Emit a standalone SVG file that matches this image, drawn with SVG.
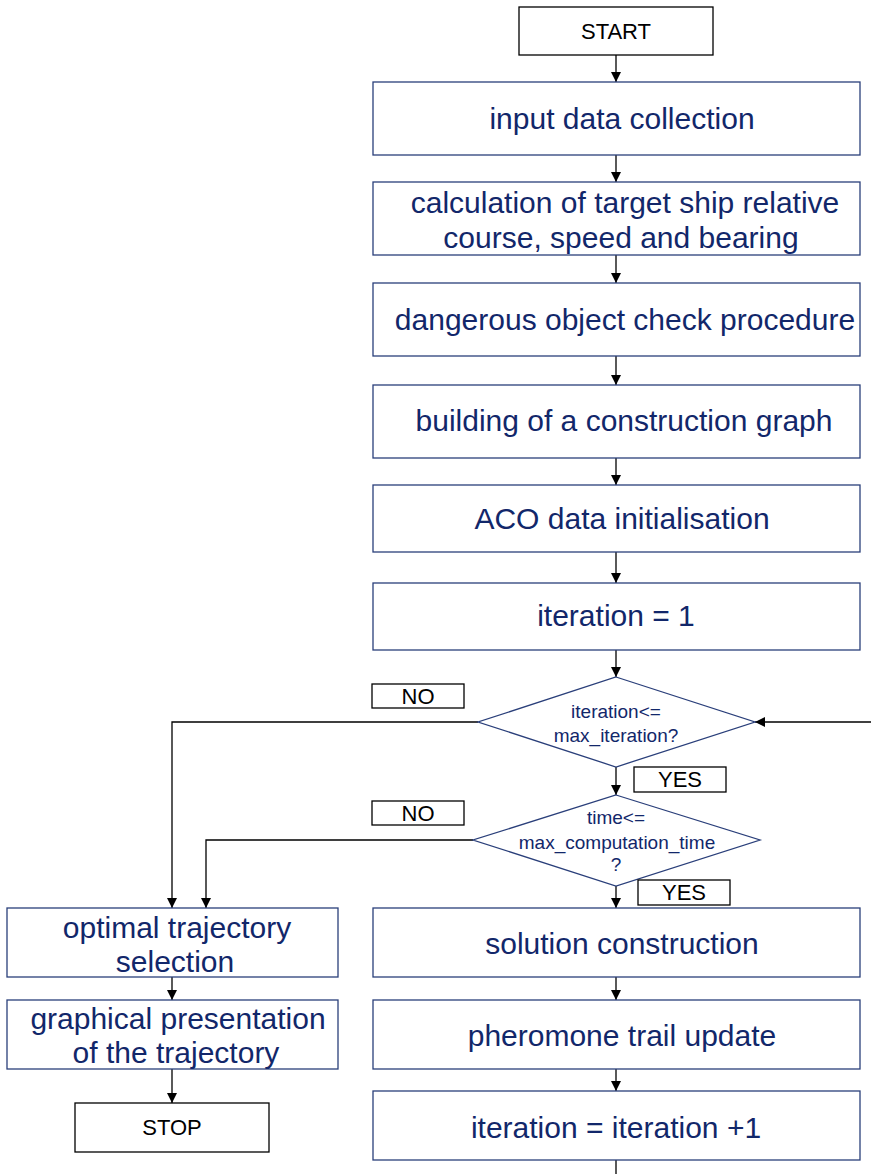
<svg xmlns="http://www.w3.org/2000/svg" width="871" height="1174" viewBox="0 0 871 1174">
<defs>
<marker id="ah" viewBox="0 0 10 10" refX="10" refY="5" markerWidth="10" markerHeight="10" markerUnits="userSpaceOnUse" orient="auto"><path d="M0,0 L10,5 L0,10 z" fill="#000"/></marker>
<style>
.b{fill:#fff;stroke:#2a3f7a;stroke-width:1.3}
.k{fill:#fff;stroke:#000;stroke-width:1.3}
.t{font-family:"Liberation Sans",Arial,sans-serif;font-size:30px;fill:#12276a;text-anchor:middle}
.d{font-family:"Liberation Sans",Arial,sans-serif;font-size:19px;fill:#12276a;text-anchor:middle}
.l{font-family:"Liberation Sans",Arial,sans-serif;font-size:22px;fill:#000;text-anchor:middle}
.c{fill:none;stroke:#000;stroke-width:1.3}
.a{marker-end:url(#ah)}
</style>
</defs>
<g id="connectors">
<line class="c a" x1="616" y1="55" x2="616" y2="82"/>
<line class="c a" x1="616" y1="155" x2="616" y2="182"/>
<line class="c a" x1="616" y1="255" x2="616" y2="283"/>
<line class="c a" x1="616" y1="356" x2="616" y2="385"/>
<line class="c a" x1="616" y1="458" x2="616" y2="485"/>
<line class="c a" x1="616" y1="552" x2="616" y2="583"/>
<line class="c a" x1="616" y1="650" x2="616" y2="677"/>
<line class="c a" x1="616" y1="767" x2="616" y2="795"/>
<line class="c a" x1="616" y1="886" x2="616" y2="908"/>
<line class="c a" x1="616" y1="977" x2="616" y2="1000"/>
<line class="c a" x1="616" y1="1069" x2="616" y2="1091"/>
<line class="c" x1="616" y1="1160" x2="616" y2="1174"/>
<line class="c a" x1="871" y1="722" x2="755" y2="722"/>
<polyline class="c a" points="478,722 172,722 172,908"/>
<polyline class="c a" points="473,840 206,840 206,908"/>
<line class="c a" x1="172" y1="977" x2="172" y2="1000"/>
<line class="c a" x1="172" y1="1069" x2="172" y2="1103"/>
</g>
<g id="start"><rect class="k" x="519" y="7" width="194" height="48"/><text class="l" x="616" y="39">START</text></g>
<g id="input"><rect class="b" x="373" y="82" width="487" height="73"/><text class="t" x="622" y="129">input data collection</text></g>
<g id="calc"><rect class="b" x="373" y="182" width="487" height="73"/><text class="t" x="625" y="213">calculation of target ship relative</text><text class="t" x="621" y="248">course, speed and bearing</text></g>
<g id="danger"><rect class="b" x="373" y="283" width="487" height="73"/><text class="t" x="625" y="330">dangerous object check procedure</text></g>
<g id="graph"><rect class="b" x="373" y="385" width="487" height="73"/><text class="t" x="624" y="431">building of a construction graph</text></g>
<g id="aco"><rect class="b" x="373" y="485" width="487" height="67"/><text class="t" x="622" y="529">ACO data initialisation</text></g>
<g id="iter1"><rect class="b" x="373" y="583" width="487" height="67"/><text class="t" x="616" y="626">iteration = 1</text></g>
<g id="dec1"><polygon class="b" points="616,677 755,722 616,767 478,722"/><text class="d" x="616" y="718">iteration&lt;=</text><text class="d" x="616" y="742">max_iteration?</text></g>
<g id="no1"><rect class="k" x="372" y="684" width="92" height="24"/><text class="l" x="418" y="704">NO</text></g>
<g id="yes1"><rect class="k" x="634" y="767" width="92" height="25"/><text class="l" x="680" y="787">YES</text></g>
<g id="dec2"><polygon class="b" points="616,795 760,840 616,886 473,840"/><text class="d" x="616" y="824">time&lt;=</text><text class="d" x="617" y="849">max_computation_time</text><text class="d" x="616" y="871">?</text></g>
<g id="no2"><rect class="k" x="372" y="801" width="92" height="24"/><text class="l" x="418" y="821">NO</text></g>
<g id="yes2"><rect class="k" x="638" y="880" width="92" height="25"/><text class="l" x="684" y="900">YES</text></g>
<g id="solution"><rect class="b" x="373" y="908" width="487" height="69"/><text class="t" x="622" y="954">solution construction</text></g>
<g id="pheromone"><rect class="b" x="373" y="1000" width="487" height="69"/><text class="t" x="622" y="1046">pheromone trail update</text></g>
<g id="iterinc"><rect class="b" x="373" y="1091" width="487" height="69"/><text class="t" x="616" y="1138">iteration = iteration +1</text></g>
<g id="optimal"><rect class="b" x="7" y="908" width="331" height="69"/><text class="t" x="177" y="938">optimal trajectory</text><text class="t" x="175" y="972">selection</text></g>
<g id="graphical"><rect class="b" x="7" y="1000" width="331" height="69"/><text class="t" x="178" y="1029">graphical presentation</text><text class="t" x="176" y="1063">of the trajectory</text></g>
<g id="stop"><rect class="k" x="75" y="1103" width="194" height="49"/><text class="l" x="172" y="1135">STOP</text></g>
</svg>
